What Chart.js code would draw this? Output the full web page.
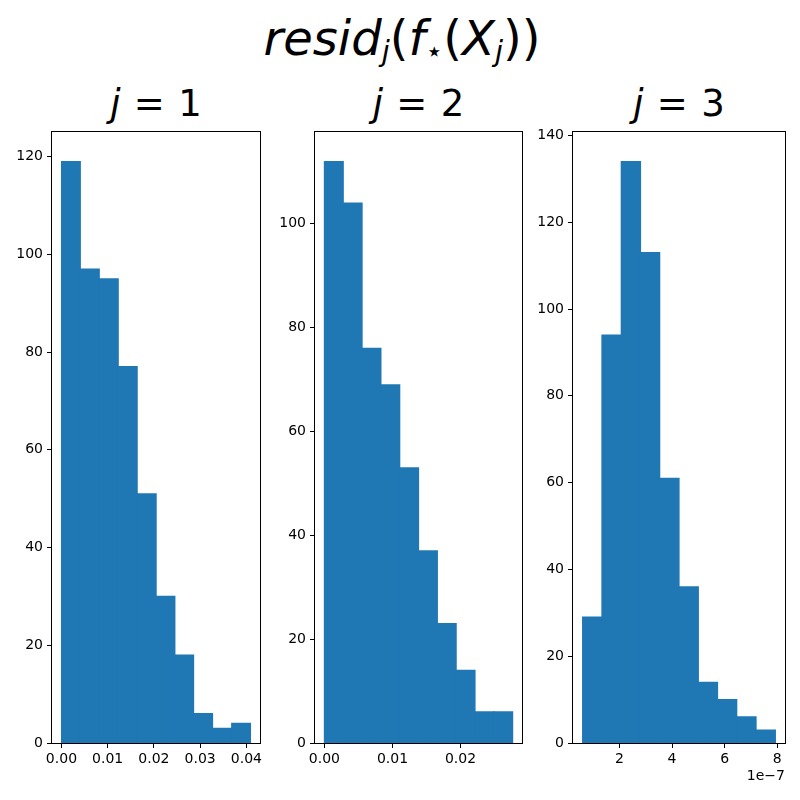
<!DOCTYPE html>
<html lang="en">
<head>
    <meta charset="UTF-8">
    <title>resid histograms</title>
    <script src="https://cdn.jsdelivr.net/npm/chart.js"></script>
    <style>
        body { margin: 0; background: #fff; }
        #page { position: relative; width: 800px; height: 800px; overflow: hidden; font-family: "DejaVu Sans", sans-serif; color: #000; }
        #title { position: absolute; left: 2px; top: 14px; width: 800px; text-align: center; font-size: 48px; line-height: 48px; white-space: nowrap; }
        #title sub { font-size: 0.6em; vertical-align: -0.21em; line-height: 0; }
        .subtitle { position: absolute; top: 85px; width: 200px; text-align: center; font-size: 37px; line-height: 37px; white-space: nowrap; }
        .subtitle .eq { margin: 0 0.36em; }
        .panel { position: absolute; }
    </style>
</head>
<body>
<div id="page">
    <div id="title"><i>resid</i><sub><i>j</i></sub>(<i>f</i><sub>⋆</sub>(<i>X</i><sub><i>j</i></sub>))</div>
    <div class="subtitle" id="st1"><i>j</i><span class="eq">=</span>1</div>
    <div class="subtitle" id="st2"><i>j</i><span class="eq">=</span>2</div>
    <div class="subtitle" id="st3"><i>j</i><span class="eq">=</span>3</div>
    <div class="panel" id="p1"><canvas id="c1"></canvas></div>
    <div class="panel" id="p2"><canvas id="c2"></canvas></div>
    <div class="panel" id="p3"><canvas id="c3"></canvas></div>
</div>

<script>
    // histogram counts and bin edges
    const counts1 = [119, 97, 95, 77, 51, 30, 18, 6, 3, 4];
    const edges1 = [0.0000, 0.0041, 0.0082, 0.0123, 0.0164, 0.0205, 0.0245, 0.0286, 0.0327, 0.0368, 0.0409];
    const counts2 = [112, 104, 76, 69, 53, 37, 23, 14, 6, 6];
    const edges2 = [0.0000, 0.00277, 0.00553, 0.0083, 0.01106, 0.01383, 0.01659, 0.01936, 0.02212, 0.02489, 0.02765];
    const counts3 = [29, 94, 134, 113, 61, 36, 14, 10, 6, 3];
    const edges3 = [0.60e-7, 1.33e-7, 2.07e-7, 2.80e-7, 3.53e-7, 4.27e-7, 5.00e-7, 5.73e-7, 6.46e-7, 7.20e-7, 7.93e-7];

    // tick labels
    const xTicks1 = [0, 0.01, 0.02, 0.03, 0.04];
    const xTicks2 = [0, 0.01, 0.02];
    const xTicks3 = [2e-7, 4e-7, 6e-7, 8e-7];
    const yTicks1 = [0, 20, 40, 60, 80, 100, 120];
    const yTicks2 = [0, 20, 40, 60, 80, 100];
    const yTicks3 = [0, 20, 40, 60, 80, 100, 120, 140];

    const barColor = '#1f77b4';
    const yW = 50, padTop = 10, padRight = 20, xH = 50;

    // axes boxes in page pixels
    const boxes = [
        { left: 52, right: 260, top: 130, bottom: 743 },
        { left: 315, right: 522, top: 130, bottom: 743 },
        { left: 573, right: 785, top: 130, bottom: 743 }
    ];

    // draws the full frame round the plot area
    const framePlugin = {
        id: 'frame',
        afterDraw(chart) {
            const a = chart.chartArea;
            const ctx = chart.ctx;
            ctx.save();
            ctx.strokeStyle = '#000';
            ctx.lineWidth = 1;
            ctx.strokeRect(Math.round(a.left) - 0.5, Math.round(a.top) - 0.5,
                Math.round(a.right - a.left) + 1, Math.round(a.bottom - a.top) + 1);
            ctx.restore();
        }
    };

    function makeHist(n, counts, edges, xTicks, yTicks, fmt, offsetText) {
        const b = boxes[n - 1];
        const div = document.getElementById('p' + n);
        div.style.left = (b.left - yW) + 'px';
        div.style.top = (b.top - padTop) + 'px';
        div.style.width = (b.right - b.left + yW + padRight) + 'px';
        div.style.height = (b.bottom - b.top + padTop + xH) + 'px';

        const st = document.getElementById('st' + n);
        st.style.left = ((b.left + b.right) / 2 - 100) + 'px';

        const points = counts.map((c, i) => ({ x: (edges[i] + edges[i + 1]) / 2, y: c }));
        const span = edges[edges.length - 1] - edges[0];
        const xMin = edges[0] - 0.05 * span;
        const xMax = edges[edges.length - 1] + 0.05 * span;
        const yMax = Math.max(...counts) * 1.05;

        const tickFont = { family: 'DejaVu Sans', size: 14 };
        const gridOpts = { offset: false, drawOnChartArea: false, drawTicks: true, tickLength: 5, tickColor: '#000', lineWidth: 1 };

        return new Chart(document.getElementById('c' + n), {
            type: 'bar',
            data: {
                datasets: [{
                    data: points,
                    backgroundColor: barColor,
                    borderWidth: 0,
                    inflateAmount: 0.6,
                    barPercentage: 1,
                    categoryPercentage: 1
                }]
            },
            options: {
                responsive: true,
                maintainAspectRatio: false,
                animation: false,
                layout: { padding: { left: 0, top: padTop, right: padRight, bottom: 0 } },
                plugins: { legend: { display: false }, tooltip: { enabled: false }, title: { display: false } },
                scales: {
                    x: {
                        type: 'linear',
                        offset: false,
                        min: xMin,
                        max: xMax,
                        afterBuildTicks: s => { s.ticks = xTicks.map(v => ({ value: v })); },
                        afterFit: s => { s.height = xH; },
                        border: { display: false },
                        grid: gridOpts,
                        ticks: { color: '#000', font: tickFont, padding: 3, maxRotation: 0, autoSkip: false, callback: fmt },
                        title: {
                            display: !!offsetText,
                            text: offsetText || '',
                            align: 'end',
                            color: '#000',
                            font: tickFont,
                            padding: { top: 0, bottom: 8 }
                        }
                    },
                    y: {
                        min: 0,
                        max: yMax,
                        afterBuildTicks: s => { s.ticks = yTicks.map(v => ({ value: v })); },
                        afterFit: s => { s.width = yW; },
                        border: { display: false },
                        grid: gridOpts,
                        ticks: { color: '#000', font: tickFont, padding: 4, autoSkip: false }
                    }
                }
            },
            plugins: [framePlugin]
        });
    }

    makeHist(1, counts1, edges1, xTicks1, yTicks1, v => v.toFixed(2));
    makeHist(2, counts2, edges2, xTicks2, yTicks2, v => v.toFixed(2));
    makeHist(3, counts3, edges3, xTicks3, yTicks3, v => String(Math.round(v / 1e-7)), '1e\u22127');
</script>
</body>
</html>
